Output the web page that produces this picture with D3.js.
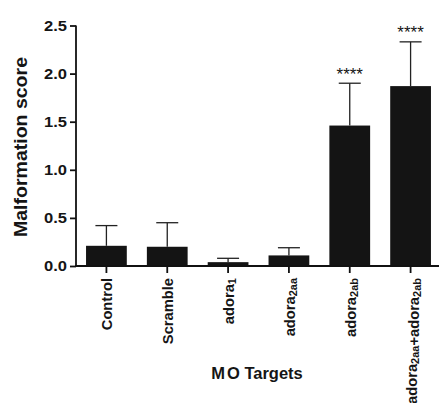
<!DOCTYPE html>
<html>
<head>
<meta charset="utf-8">
<script src="https://cdn.jsdelivr.net/npm/d3@7"></script>
<style>
  body { margin: 0; background: #fff; }
  svg text { font-family: "Liberation Sans", Arial, sans-serif; font-weight: bold; fill: #151515; }
</style>
</head>
<body>
<div id="chart"></div>
<script>
// MO target groups, label pieces are [base, subscript]
var groups = ["Control", "Scramble", "adora1", "adora2aa", "adora2ab", "adora2aa+adora2ab"];
var labelParts = [
  [["Control", ""]],
  [["Scramble", ""]],
  [["adora", "1"]],
  [["adora", "2aa"]],
  [["adora", "2ab"]],
  [["adora", "2aa"], ["+adora", "2ab"]]
];
var means = [0.21, 0.20, 0.04, 0.11, 1.46, 1.87];
var errors = [0.21, 0.25, 0.04, 0.08, 0.44, 0.46];
var signif = ["", "", "", "", "****", "****"];
var yTicks = [0, 0.5, 1.0, 1.5, 2.0, 2.5];

var width = 439, height = 403;
var svg = d3.select("#chart").append("svg")
  .attr("width", width)
  .attr("height", height);

var x = d3.scaleBand()
  .domain(groups)
  .range([76, 441])
  .paddingInner(0.33)
  .paddingOuter(0.165);

var y = d3.scaleLinear()
  .domain([0, 2.5])
  .range([266, 25.5]);

var cx = function (d) { return x(d) + x.bandwidth() / 2; };

// bars
svg.selectAll("rect.bar")
  .data(groups)
  .enter().append("rect")
  .attr("class", "bar")
  .attr("x", function (d) { return x(d); })
  .attr("width", x.bandwidth())
  .attr("y", function (d, i) { return y(means[i]); })
  .attr("height", function (d, i) { return y(0) - y(means[i]); })
  .attr("fill", "#141414");

// error bars (upper only)
var err = svg.selectAll("g.err")
  .data(groups)
  .enter().append("g")
  .attr("class", "err")
  .attr("stroke", "#222")
  .attr("stroke-width", 1.3);
err.append("line")
  .attr("x1", cx)
  .attr("x2", cx)
  .attr("y1", function (d, i) { return y(means[i]); })
  .attr("y2", function (d, i) { return y(means[i] + errors[i]); });
err.append("line")
  .attr("x1", function (d) { return cx(d) - 11; })
  .attr("x2", function (d) { return cx(d) + 11; })
  .attr("y1", function (d, i) { return y(means[i] + errors[i]); })
  .attr("y2", function (d, i) { return y(means[i] + errors[i]); });

// significance stars
svg.selectAll("text.sig")
  .data(groups)
  .enter().append("text")
  .attr("class", "sig")
  .attr("x", cx)
  .attr("y", function (d, i) { return y(means[i] + errors[i]) - 3.5; })
  .attr("text-anchor", "middle")
  .style("font-size", "17px")
  .style("font-weight", "normal")
  .text(function (d, i) { return signif[i]; });

// y axis
var yAxis = svg.append("g")
  .attr("transform", "translate(76,0)")
  .call(d3.axisLeft(y).tickValues(yTicks).tickFormat(d3.format(".1f")).tickSize(6).tickPadding(3));
yAxis.selectAll("text")
  .style("font-size", "14.5px")
  .attr("textLength", 23)
  .attr("lengthAdjust", "spacingAndGlyphs");
yAxis.selectAll("path, line").attr("stroke", "#111").attr("stroke-width", 1.8);
yAxis.select("path").attr("d", "M0," + y(2.5) + "V" + y(0));

// x axis
var xAxis = svg.append("g")
  .attr("transform", "translate(0," + y(0) + ")")
  .call(d3.axisBottom(x).tickSize(7).tickFormat(""));
xAxis.selectAll("path, line").attr("stroke", "#111").attr("stroke-width", 1.8);
xAxis.select("path").attr("d", "M75,0H439");

// rotated x labels with subscripts
var xl = svg.selectAll("text.xlab")
  .data(groups)
  .enter().append("text")
  .attr("class", "xlab")
  .attr("text-anchor", "end")
  .attr("transform", function (d) {
    return "translate(" + (cx(d) + 6) + "," + (y(0) + 12) + ") rotate(-90)";
  })
  .style("font-size", "14.7px");
xl.each(function (d, i) {
  var t = d3.select(this);
  labelParts[i].forEach(function (p) {
    t.append("tspan").text(p[0]);
    if (p[1]) {
      t.append("tspan").attr("dy", 2).style("font-size", "11px").text(p[1]);
      t.append("tspan").attr("dy", -2).text("");
    }
  });
});

// axis titles
svg.append("text")
  .attr("transform", "translate(27,147) rotate(-90)")
  .attr("text-anchor", "middle")
  .attr("textLength", 180)
  .attr("lengthAdjust", "spacingAndGlyphs")
  .style("font-size", "17.5px")
  .text("Malformation score");

var xt = svg.append("text")
  .attr("x", 257)
  .attr("y", 379)
  .attr("text-anchor", "middle")
  .style("font-size", "16.5px");
xt.append("tspan").text("M");
xt.append("tspan").attr("dx", 2).text("O Targets");
</script>
</body>
</html>
